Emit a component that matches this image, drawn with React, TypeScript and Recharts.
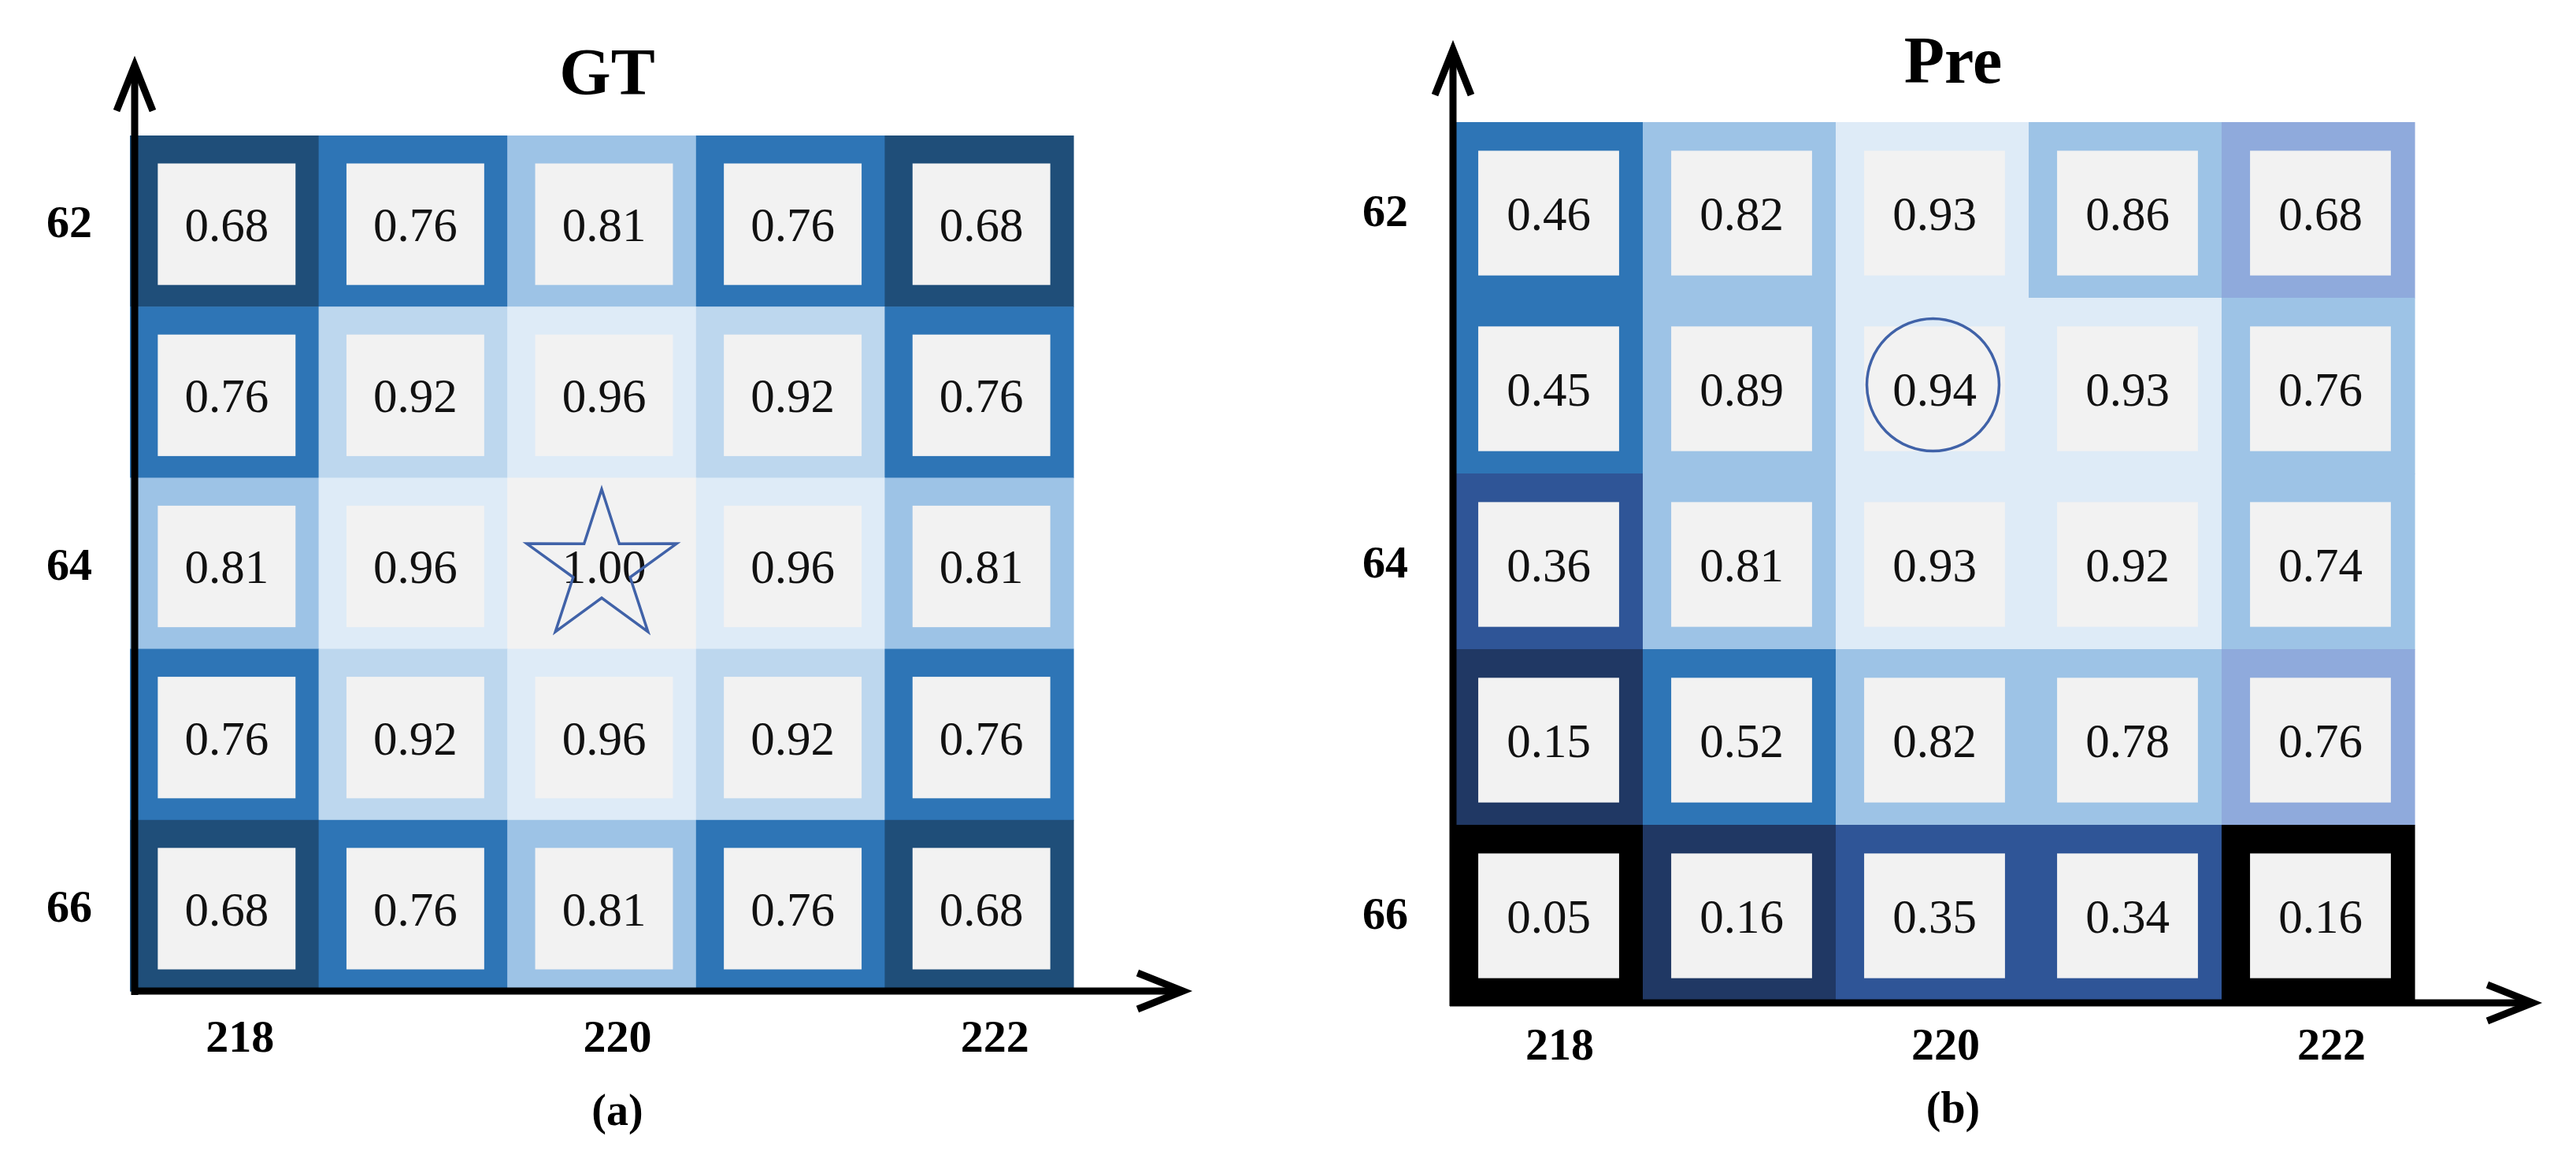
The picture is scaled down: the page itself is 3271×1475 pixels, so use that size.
import React from "react";
import { ScatterChart, Scatter, XAxis, YAxis } from "recharts";

const FONT = '"Liberation Serif", "Times New Roman", "DejaVu Serif", serif';

// grid coordinates
const cols = [218, 219, 220, 221, 222];
const rows = [62, 63, 64, 65, 66];
const xTicks = [218, 220, 222];
const yTicks = [62, 64, 66];

// cell values, row by row (top = 62)
const gtValues = [
  [0.68, 0.76, 0.81, 0.76, 0.68],
  [0.76, 0.92, 0.96, 0.92, 0.76],
  [0.81, 0.96, 1.0, 0.96, 0.81],
  [0.76, 0.92, 0.96, 0.92, 0.76],
  [0.68, 0.76, 0.81, 0.76, 0.68],
];
const preValues = [
  [0.46, 0.82, 0.93, 0.86, 0.68],
  [0.45, 0.89, 0.94, 0.93, 0.76],
  [0.36, 0.81, 0.93, 0.92, 0.74],
  [0.15, 0.52, 0.82, 0.78, 0.76],
  [0.05, 0.16, 0.35, 0.34, 0.16],
];

// cell shades (keys into SHADE)
const gtShades = [
  ["N", "B", "L", "B", "N"],
  ["B", "M", "P", "M", "B"],
  ["L", "P", "G", "P", "L"],
  ["B", "M", "P", "M", "B"],
  ["N", "B", "L", "B", "N"],
];
const preShades = [
  ["B", "L", "P", "L", "V"],
  ["B", "L", "P", "P", "L"],
  ["D", "L", "P", "P", "L"],
  ["K", "B", "L", "L", "V"],
  ["X", "K", "D", "D", "X"],
];

const gtMarker = [{ x: 220, y: 64 }];
const preMarker = [{ x: 220, y: 63 }];

const SHADE: Record<string, string> = {
  X: "#000000",
  K: "#203864",
  N: "#1f4e79",
  D: "#2f5597",
  B: "#2e75b6",
  V: "#8faadc",
  L: "#9dc3e6",
  M: "#bdd7ee",
  P: "#deebf7",
  G: "#f2f2f2",
};

const MARK = "#4062a8";

function toPoints(values: number[][], shades: string[][]) {
  return rows.flatMap((r, i) =>
    cols.map((c, j) => ({ x: c, y: r, v: values[i][j], fill: SHADE[shades[i][j]] }))
  );
}

const cellShape = (cw: number, ch: number) => (props: any) => {
  const { cx, cy, payload } = props;
  const iw = cw * 0.73;
  const ih = ch * 0.71;
  const ix = cx + 3;
  const iy = cy + 4;
  return (
    <g>
      <rect x={cx - cw / 2} y={cy - ch / 2} width={cw + 0.6} height={ch + 0.6} fill={payload.fill} />
      <rect x={ix - iw / 2} y={iy - ih / 2} width={iw} height={ih} fill="#f2f2f2" />
      <text
        x={ix}
        y={iy}
        dy="0.35em"
        textAnchor="middle"
        fontFamily={FONT}
        fontSize={61}
        fill="#111"
      >
        {payload.v.toFixed(2)}
      </text>
    </g>
  );
};

const starShape = (props: any) => {
  const { cx, cy } = props;
  const R = 100;
  const r = 38;
  const pts: string[] = [];
  for (let k = 0; k < 10; k++) {
    const a = ((-90 + k * 36) * Math.PI) / 180;
    const rad = k % 2 === 0 ? R : r;
    pts.push(`${cx + rad * Math.cos(a)},${cy + 6 + rad * Math.sin(a)}`);
  }
  return <polygon points={pts.join(" ")} fill="none" stroke={MARK} strokeWidth={3.5} />;
};

const circleShape = (props: any) => {
  const { cx, cy } = props;
  return <circle cx={cx + 1} cy={cy - 1} r={84} fill="none" stroke={MARK} strokeWidth={3.5} />;
};

interface PanelProps {
  left: number;
  width: number;
  margin: { top: number; right: number; bottom: number; left: number };
  yAxisWidth: number;
  xAxisHeight: number;
  xTickMargin: number;
  yTickMargin: number;
  tickDx: number;
  values: number[][];
  shades: string[][];
  marker: { x: number; y: number }[];
  markerShape: (p: any) => React.ReactElement;
}

const HEIGHT = 1475;

function Panel(p: PanelProps) {
  const plotW = p.width - p.margin.left - p.margin.right - p.yAxisWidth;
  const plotH = HEIGHT - p.margin.top - p.margin.bottom - p.xAxisHeight;
  const cw = plotW / cols.length;
  const ch = plotH / rows.length;
  const tickStyle = { fontSize: 58, fontWeight: 700, fill: "#000", fontFamily: FONT };
  return (
    <div style={{ position: "absolute", left: p.left, top: 0 }}>
      <ScatterChart width={p.width} height={HEIGHT} margin={p.margin}>
        <XAxis
          type="number"
          dataKey="x"
          domain={[217.5, 222.5]}
          ticks={xTicks}
          axisLine={false}
          tickLine={false}
          tickSize={0}
          tickMargin={p.xTickMargin}
          height={p.xAxisHeight}
          tick={{ ...tickStyle, dx: p.tickDx }}
        />
        <YAxis
          type="number"
          dataKey="y"
          domain={[61.5, 66.5]}
          reversed
          ticks={yTicks}
          axisLine={false}
          tickLine={false}
          tickSize={0}
          tickMargin={p.yTickMargin}
          width={p.yAxisWidth}
          tick={tickStyle}
        />
        <Scatter
          data={toPoints(p.values, p.shades)}
          shape={cellShape(cw, ch)}
          isAnimationActive={false}
        />
        <Scatter data={p.marker} shape={p.markerShape} isAnimationActive={false} />
      </ScatterChart>
    </div>
  );
}

function Arrow({ x1, y1, x2, y2 }: { x1: number; y1: number; x2: number; y2: number }) {
  const ang = Math.atan2(y2 - y1, x2 - x1);
  const len = 62;
  const half = 0.38;
  const p1 = [x2 - len * Math.cos(ang - half), y2 - len * Math.sin(ang - half)];
  const p2 = [x2 - len * Math.cos(ang + half), y2 - len * Math.sin(ang + half)];
  return (
    <g stroke="#000" strokeWidth={9} fill="none">
      <line x1={x1} y1={y1} x2={x2 - 4 * Math.cos(ang)} y2={y2 - 4 * Math.sin(ang)} />
      <polyline points={`${p1[0]},${p1[1]} ${x2},${y2} ${p2[0]},${p2[1]}`} strokeLinejoin="miter" />
    </g>
  );
}

export default function App() {
  return (
    <div
      style={{
        position: "absolute",
        left: 0,
        top: 0,
        width: 3271,
        height: HEIGHT,
        background: "#fff",
        overflow: "hidden",
      }}
    >
      <Panel
        left={0}
        width={1560}
        margin={{ top: 172, right: 197, bottom: 127, left: 35 }}
        yAxisWidth={130}
        xAxisHeight={90}
        xTickMargin={36}
        yTickMargin={48}
        tickDx={20}
        values={gtValues}
        shades={gtShades}
        marker={gtMarker}
        markerShape={starShape}
      />
      <Panel
        left={1600}
        width={1671}
        margin={{ top: 155, right: 205, bottom: 115, left: 111 }}
        yAxisWidth={130}
        xAxisHeight={90}
        xTickMargin={34}
        yTickMargin={53}
        tickDx={17}
        values={preValues}
        shades={preShades}
        marker={preMarker}
        markerShape={circleShape}
      />
      <svg
        width={3271}
        height={HEIGHT}
        style={{ position: "absolute", left: 0, top: 0, pointerEvents: "none" }}
      >
        <Arrow x1={171} y1={1263} x2={171} y2={83} />
        <Arrow x1={167} y1={1258} x2={1502} y2={1258} />
        <Arrow x1={1845} y1={1277} x2={1845} y2={63} />
        <Arrow x1={1841} y1={1273} x2={3216} y2={1273} />
        <g fontFamily={FONT} fontWeight={700} fill="#000" textAnchor="middle">
          <text x={771} y={120} fontSize={84}>GT</text>
          <text x={2480} y={105} fontSize={84}>Pre</text>
          <text x={784} y={1428} fontSize={56}>(a)</text>
          <text x={2480} y={1425} fontSize={56}>(b)</text>
        </g>
      </svg>
    </div>
  );
}
